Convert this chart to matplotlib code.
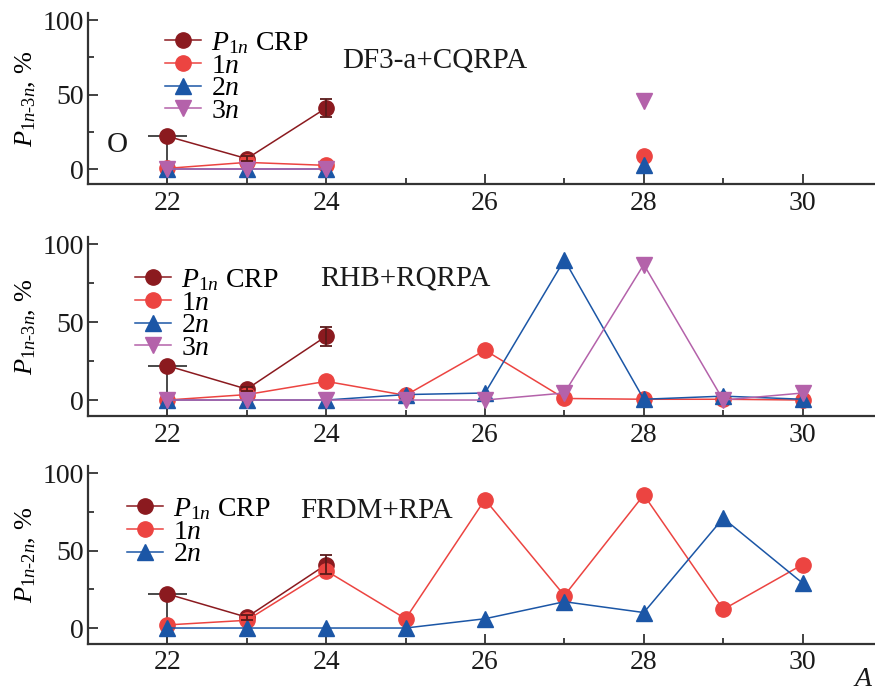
import numpy as np
import matplotlib
matplotlib.use("Agg")
import matplotlib.pyplot as plt
from matplotlib.ticker import MultipleLocator

plt.rcParams["font.family"] = ["Liberation Serif", "DejaVu Serif"]
plt.rcParams["mathtext.fontset"] = "custom"
plt.rcParams["mathtext.rm"] = "Liberation Serif"
plt.rcParams["mathtext.it"] = "Liberation Serif:italic"

nan = np.nan
mass_numbers = [22, 23, 24, 25, 26, 27, 28, 29, 30]

# Measured P1n (CRP)
crp_A = [22, 23, 24]
crp_val = [22, 7, 41]
crp_err_low = [40, 1.5, 6]
crp_err_high = [0, 1.5, 6]
crp_xerr = [0.25, 0, 0]

# DF3-a+CQRPA
df3_1n = [0.5, 4.5, 2.5, nan, nan, nan, 9, nan, nan]
df3_2n = [0, 0, 0, nan, nan, nan, 3, nan, nan]
df3_3n = [0, 0, 0, nan, nan, nan, 45.5, nan, nan]

# RHB+RQRPA
rhb_1n = [0, 3.5, 12, 3, 32, 1, 0.5, 0.5, 0]
rhb_2n = [0, 0, 0, 3.5, 4.5, 90, 0.5, 2.5, 0.5]
rhb_3n = [0, 0, 0, 0, 0, 4.5, 87, 0, 4.5]

# FRDM+RPA
frdm_1n = [2, 5, 37, 6, 83, 21, 86, 12, 41]
frdm_2n = [0, 0, 0, 0, 6, 17, 10, 71, 29]

c_crp = "#8b1a1f"
c_1n = "#ec4441"
c_2n = "#1b56a6"
c_3n = "#b462aa"

W, H = 875, 691
fig = plt.figure(figsize=(W / 100, H / 100), dpi=100)

def px_axes(top_px, bottom_px):
    left = 88 / W
    width = (882 - 88) / W
    return [left, 1 - bottom_px / H, width, (bottom_px - top_px) / H]

panels = [
    dict(rect=px_axes(13.3, 184.0), ylabel=r"$P_{\mathrm{1}n\text{-}\mathrm{3}n}$, %",
         series=[(df3_1n, c_1n, "o", "$1n$"), (df3_2n, c_2n, "^", "$2n$"),
                 (df3_3n, c_3n, "v", "$3n$")],
         legend_px=(165, 30), model="DF3-a+CQRPA", model_px=(342, 60)),
    dict(rect=px_axes(237.3, 415.6), ylabel=r"$P_{\mathrm{1}n\text{-}\mathrm{3}n}$, %",
         series=[(rhb_1n, c_1n, "o", "$1n$"), (rhb_2n, c_2n, "^", "$2n$"),
                 (rhb_3n, c_3n, "v", "$3n$")],
         legend_px=(135, 267), model="RHB+RQRPA", model_px=(320, 278)),
    dict(rect=px_axes(466.3, 643.5), ylabel=r"$P_{\mathrm{1}n\text{-}\mathrm{2}n}$, %",
         series=[(frdm_1n, c_1n, "o", "$1n$"), (frdm_2n, c_2n, "^", "$2n$")],
         legend_px=(127, 496), model="FRDM+RPA", model_px=(300, 511)),
]

for p in panels:
    ax = fig.add_axes(p["rect"])
    ax.set_xlim(21, 31)
    ax.set_ylim(-10, 104.5)
    for s in ("top", "right"):
        ax.spines[s].set_visible(False)
    for s in ("left", "bottom"):
        ax.spines[s].set_linewidth(1.6)
        ax.spines[s].set_color("#333333")
    ax.xaxis.set_major_locator(MultipleLocator(2))
    ax.xaxis.set_minor_locator(MultipleLocator(1))
    ax.yaxis.set_major_locator(MultipleLocator(50))
    ax.yaxis.set_minor_locator(MultipleLocator(25))
    ax.set_yticks([0, 50, 100])
    ax.set_xticks([22, 24, 26, 28, 30])
    ax.tick_params(which="both", direction="in", color="#333333", width=1.3,
                   labelsize=20, labelcolor="#1a1a1a")
    ax.tick_params(which="major", length=7)
    ax.tick_params(which="minor", length=4)
    ax.tick_params(axis="x", pad=5)
    ax.tick_params(axis="y", pad=3)
    ax.set_ylabel(p["ylabel"], fontsize=19, labelpad=3)

    # measured values with error bars
    handles = []
    h_crp, = ax.plot(crp_A, crp_val, "-", color=c_crp, lw=1.1, marker="o",
                     ms=11, zorder=3, label=r"$P_{\mathrm{1}n}$ CRP")
    handles.append(h_crp)
    ax.errorbar(crp_A[:1], crp_val[:1], yerr=[crp_err_low[:1], crp_err_high[:1]],
                xerr=[crp_xerr[:1], crp_xerr[:1]], fmt="none", ecolor="#3a3a3a",
                elinewidth=1.3, capsize=0, zorder=2)
    ax.errorbar(crp_A[1:], crp_val[1:], yerr=[crp_err_low[1:], crp_err_high[1:]],
                fmt="none", ecolor="#5a1a1a", elinewidth=1.3, capsize=4,
                capthick=1.3, zorder=4)

    for vals, col, mk, lab in p["series"]:
        h, = ax.plot(mass_numbers, vals, "-", color=col, lw=1.1, marker=mk,
                     ms=12 if mk != "o" else 11, zorder=3, label=lab)
        handles.append(h)

    lx, ly = p["legend_px"]
    x0, y0, w, h = p["rect"]
    bx = (lx / W - x0) / w
    by = ((1 - ly / H) - y0) / h
    ax.legend(handles=handles, loc="upper left", bbox_to_anchor=(bx, by),
              frameon=False, fontsize=20, handlelength=1.3, handletextpad=0.35,
              labelspacing=-0.1, borderpad=0, borderaxespad=0)

    mx, my = p["model_px"]
    fig.text(mx / W, 1 - my / H, p["model"], fontsize=21, va="center",
             ha="left", color="#1a1a1a")

fig.text(107 / W, 1 - 145 / H, "O", fontsize=21, va="center", ha="left",
         color="#1a1a1a")
fig.text(874 / W, 1 - 679 / H, "$A$", fontsize=20, va="center", ha="right",
         color="#1a1a1a")

fig.savefig("out.png", dpi=100)
